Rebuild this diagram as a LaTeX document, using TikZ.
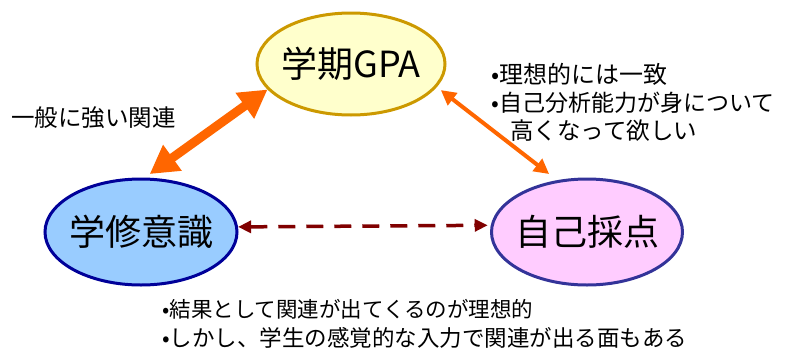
\documentclass[tikz,border=0pt]{standalone}
\usepackage{fontspec}
\setmainfont{Noto Sans CJK JP}
\usetikzlibrary{shapes.geometric,arrows.meta}
\definecolor{gpafill}{HTML}{FFFFCC}
\definecolor{gpadraw}{HTML}{CC9900}
\definecolor{bluefill}{HTML}{99CCFF}
\definecolor{bluedraw}{HTML}{000099}
\definecolor{pinkfill}{HTML}{FFCCFF}
\definecolor{pinkdraw}{HTML}{333399}
\definecolor{arrorange}{HTML}{FF6600}
\definecolor{darkred}{HTML}{800000}
\tikzset{
  bigoval/.style={ellipse, line width=3pt, inner xsep=-30pt, inner ysep=0pt, font=\fontsize{36}{40}\selectfont},
  note/.style={anchor=base west, inner sep=0pt},
  thickarrow/.style={draw=arrorange, line width=9pt, {Triangle[length=28pt,width=30pt]}-{Triangle[length=28pt,width=30pt]}},
  thinarrow/.style={draw=arrorange, line width=4pt, {Triangle[length=15pt,width=15pt]}-{Triangle[length=15pt,width=15pt]}},
  dasharrow/.style={draw=darkred, line width=3.5pt, dash pattern=on 17pt off 11pt, {Triangle[length=13pt,width=12pt]}-{Triangle[length=13pt,width=12pt]}}
}
\begin{document}
\begin{tikzpicture}[x=1pt,y=-1pt]
\useasboundingbox (0,0) rectangle (787,351);
\node[bigoval, fill=gpafill, draw=gpadraw, minimum width=188pt, minimum height=102pt] (gpa) at (351,64) {学期GPA};
\node[bigoval, fill=bluefill, draw=bluedraw, minimum width=192pt, minimum height=106pt] (gakushu) at (141,232) {学修意識};
\node[bigoval, fill=pinkfill, draw=pinkdraw, minimum width=191pt, minimum height=106pt] (saiten) at (587,232) {自己採点};

\draw[thickarrow, shorten >=6pt] (gpa.197) -- (gakushu.86);
\draw[thinarrow, shorten <=5pt, shorten >=10pt] (gpa.-15) -- (saiten.120);
\draw[dasharrow, shorten >=3pt] (gakushu.3.5) -- (saiten.176.5);

\node[note, font=\fontsize{23.5}{26}\selectfont] (t1) at (11,126) {一般に強い関連};
\node[note, font=\fontsize{24}{26}\selectfont] (t2) at (491,83) {•理想的には一致};
\node[note, font=\fontsize{23}{26}\selectfont] (t3) at (491,111) {•自己分析能力が身について};
\node[note, font=\fontsize{23.5}{26}\selectfont] (t4) at (510,139) {高くなって欲しい};
\node[note, font=\fontsize{21.5}{26}\selectfont] (t5) at (162,317) {•結果として関連が出てくるのが理想的};
\node[note, font=\fontsize{22.5}{26}\selectfont] (t6) at (162,346) {•しかし、学生の感覚的な入力で関連が出る面もある};
\end{tikzpicture}
\end{document}
